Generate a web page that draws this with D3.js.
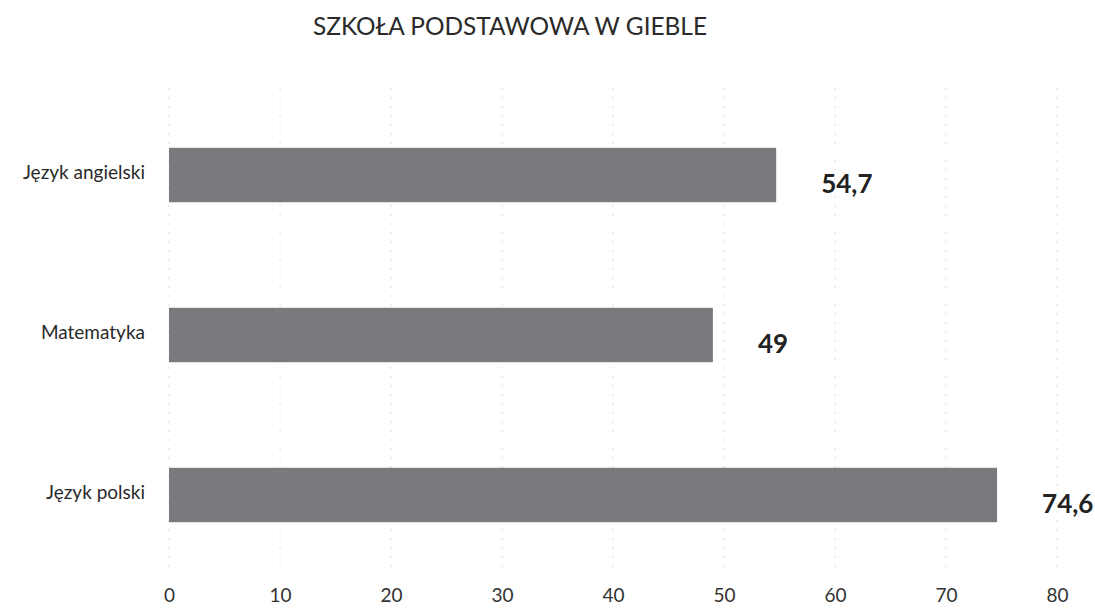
<!DOCTYPE html>
<html>
<head>
<meta charset="utf-8">
<script src="https://cdn.jsdelivr.net/npm/d3@7"></script>
<style>
  body { margin: 0; background: #fff; }
  svg text { font-family: Lato, "Open Sans", sans-serif; }
</style>
</head>
<body>
<script>
var categories = ["Język angielski", "Matematyka", "Język polski"];
var values = [54.7, 49, 74.6];
var tickValues = [0, 10, 20, 30, 40, 50, 60, 70, 80];
var title = "SZKOŁA PODSTAWOWA W GIEBLE";

var w = 1095, h = 613;
var pl = d3.formatLocale({decimal: ",", thousands: " ", grouping: [3], currency: ["", " zł"]});
var fmt = pl.format("~g");

var svg = d3.select("body").append("svg")
  .attr("width", w)
  .attr("height", h);

var x = d3.scaleLinear().domain([0, 80]).range([169, 1057]);
var y = d3.scaleBand().domain(categories).range([95, 575]).paddingInner(0.66).paddingOuter(0.33);

// title
svg.append("text")
  .attr("x", 510).attr("y", 35)
  .attr("text-anchor", "middle")
  .attr("font-size", 25)
  .attr("fill", "#2a2a2a")
  .attr("textLength", 394)
  .attr("lengthAdjust", "spacingAndGlyphs")
  .text(title);

// faint gridlines
svg.append("g").selectAll("line")
  .data(tickValues)
  .enter().append("line")
  .attr("x1", function(d){ return x(d); })
  .attr("x2", function(d){ return x(d); })
  .attr("y1", 88).attr("y2", 572)
  .attr("stroke", "#dcdcdc")
  .attr("stroke-width", 1)
  .attr("stroke-dasharray", "2,7");

// x axis labels
var xAxis = d3.axisBottom(x).tickValues(tickValues).tickSize(0).tickPadding(0);
var gx = svg.append("g").attr("transform", "translate(0,588)").call(xAxis);
gx.select(".domain").remove();
gx.selectAll("text")
  .attr("font-size", 19)
  .attr("fill", "#333")
  .style("font-family", "Lato, sans-serif");

// category labels
var yAxis = d3.axisLeft(y).tickSize(0).tickPadding(0);
var gy = svg.append("g").attr("transform", "translate(145,0)").call(yAxis);
gy.select(".domain").remove();
gy.selectAll("text")
  .attr("font-size", 19)
  .attr("fill", "#2a2a2a")
  .attr("dy", "0.2em")
  .style("font-family", "Lato, sans-serif");

var rows = categories.map(function(c, i){ return {cat: c, val: values[i]}; });

// bars
svg.append("g").selectAll("rect")
  .data(rows)
  .enter().append("rect")
  .attr("x", x(0))
  .attr("y", function(d){ return y(d.cat); })
  .attr("width", function(d){ return x(d.val) - x(0); })
  .attr("height", y.bandwidth())
  .attr("fill", "#7a797e");

// value labels
svg.append("g").selectAll("text")
  .data(rows)
  .enter().append("text")
  .attr("x", function(d){ return x(d.val) + 45; })
  .attr("y", function(d){ return y(d.cat) + y.bandwidth() / 2 + 18; })
  .attr("font-size", 26)
  .attr("font-weight", "bold")
  .attr("fill", "#222")
  .text(function(d){ return fmt(d.val); });
</script>
</body>
</html>
